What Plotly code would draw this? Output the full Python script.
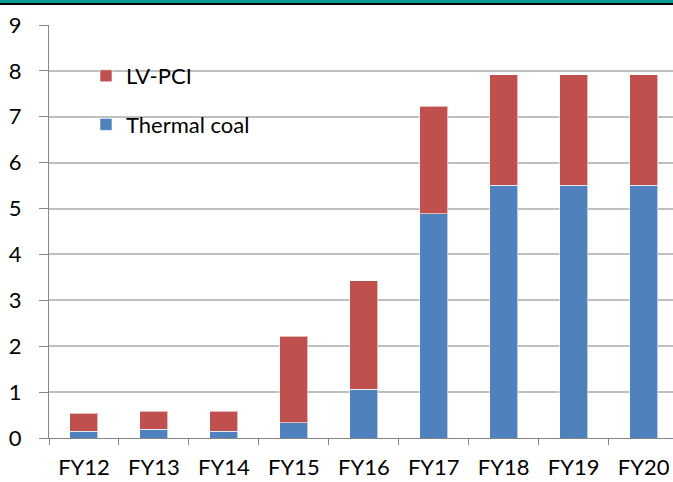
import plotly.graph_objects as go

categories = ["FY12", "FY13", "FY14", "FY15", "FY16", "FY17", "FY18", "FY19", "FY20"]
thermal_coal = [0.15, 0.19, 0.15, 0.33, 1.06, 4.89, 5.51, 5.51, 5.51]
lv_pci_total = [0.54, 0.58, 0.58, 2.22, 3.43, 7.23, 7.92, 7.92, 7.92]
lv_pci = [round(t - c, 2) for t, c in zip(lv_pci_total, thermal_coal)]
y_ticks = [0, 1, 2, 3, 4, 5, 6, 7, 8, 9]

W, H = 673, 482
ML, MT, MB = 49, 25, 44
plot_w = W - ML
plot_h = H - MT - MB

fig = go.Figure()
fig.add_trace(go.Bar(x=categories, y=thermal_coal, name="Thermal coal",
                     marker=dict(color="#4F81BD", line=dict(color="rgba(255,255,255,0.6)", width=1)),
                     legendgroup="a", legendrank=2))
fig.add_trace(go.Bar(x=categories, y=lv_pci, name="LV-PCI",
                     marker=dict(color="#C0504D", line=dict(color="rgba(255,255,255,0.6)", width=1)),
                     legendgroup="b", legendrank=1))

fig.update_layout(
    width=W, height=H,
    margin=dict(l=ML, r=0, t=MT, b=MB),
    barmode="stack", bargap=0.6,
    plot_bgcolor="white", paper_bgcolor="white",
    font=dict(family="Lato, Carlito, Calibri, sans-serif", size=22, color="#000000"),
    legend=dict(x=(86 - ML) / plot_w, y=1 - (55 - MT) / plot_h, xanchor="left", yanchor="top",
                traceorder="grouped", tracegroupgap=17,
                bgcolor="rgba(0,0,0,0)", font=dict(size=22), itemwidth=30),
    xaxis=dict(range=[-0.5, 8.42], showline=True, linecolor="#868686", linewidth=1,
               ticks="outside", tickson="boundaries", ticklen=6, tickcolor="#868686",
               showgrid=False, ticklabelstandoff=10, tickfont=dict(size=22)),
    yaxis=dict(range=[0, 9], tickvals=y_ticks, showline=True, linecolor="#868686", linewidth=1,
               ticks="outside", ticklen=9, tickcolor="#868686",
               showgrid=True, gridcolor="#BFBFBF", gridwidth=2, zeroline=False,
               ticklabelstandoff=13, tickfont=dict(size=22)),
    shapes=[
        dict(type="rect", xref="paper", yref="paper",
             x0=-ML / plot_w, x1=1, y0=1 + (MT - 3) / plot_h, y1=1 + MT / plot_h,
             fillcolor="#009B91", line=dict(width=0), layer="above"),
        dict(type="rect", xref="paper", yref="paper",
             x0=-ML / plot_w, x1=1, y0=1 + (MT - 5) / plot_h, y1=1 + (MT - 3) / plot_h,
             fillcolor="#000000", line=dict(width=0), layer="above"),
    ],
)

fig.write_html("out.html", config={"displayModeBar": False},
               post_script="document.body.style.margin='0px';document.documentElement.style.margin='0px';")
